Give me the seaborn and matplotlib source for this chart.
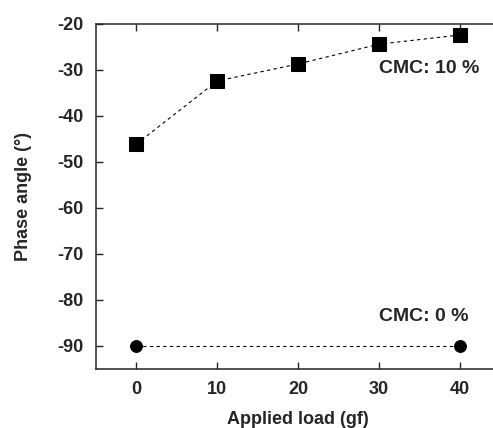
import pandas as pd
import matplotlib.pyplot as plt
import seaborn as sns

# Phase angle vs applied load, two CMC concentrations
load_10 = [0, 10, 20, 30, 40]
phase_10 = [-46.1, -32.4, -28.7, -24.4, -22.4]
load_0 = [0, 40]
phase_0 = [-90.0, -90.0]

df10 = pd.DataFrame({"load": load_10, "phase": phase_10})
df0 = pd.DataFrame({"load": load_0, "phase": phase_0})

sns.set_style("ticks")
plt.rcParams["font.family"] = ["Liberation Sans", "DejaVu Sans"]
plt.rcParams["font.weight"] = "bold"
plt.rcParams["axes.labelweight"] = "bold"
plt.rcParams["axes.unicode_minus"] = False

fig = plt.figure(figsize=(4.93, 4.28), dpi=100)
# right spine falls just outside the figure in the original
ax = fig.add_axes([0.1947, 0.1379, 0.8195, 0.8061])

sns.lineplot(data=df10, x="load", y="phase", ax=ax, color="black",
             marker="s", markersize=10, linestyle=(0, (3, 3)), linewidth=0.8,
             markeredgecolor="black")
sns.lineplot(data=df0, x="load", y="phase", ax=ax, color="black",
             marker="o", markersize=8.5, linestyle=(0, (3, 3)), linewidth=0.8,
             markeredgecolor="black")

ax.set_xlim(-5, 45)
ax.set_ylim(-95, -20)
ax.set_xticks([0, 10, 20, 30, 40])
ax.set_yticks([-90, -80, -70, -60, -50, -40, -30, -20])
ax.tick_params(direction="in", length=5, width=1, top=True, right=True,
               labelsize=13, pad=9)
for s in ax.spines.values():
    s.set_linewidth(1.1)
    s.set_visible(True)

ax.set_xlabel("Applied load (gf)", fontsize=13, labelpad=9)
ax.set_ylabel("Phase angle (°)", fontsize=13, labelpad=18)

ax.text(30, -29.6, "CMC: 10 %", fontsize=14, ha="left", va="center")
ax.text(30, -83.7, "CMC: 0 %", fontsize=14, ha="left", va="center")

fig.savefig("out.png", dpi=100)
